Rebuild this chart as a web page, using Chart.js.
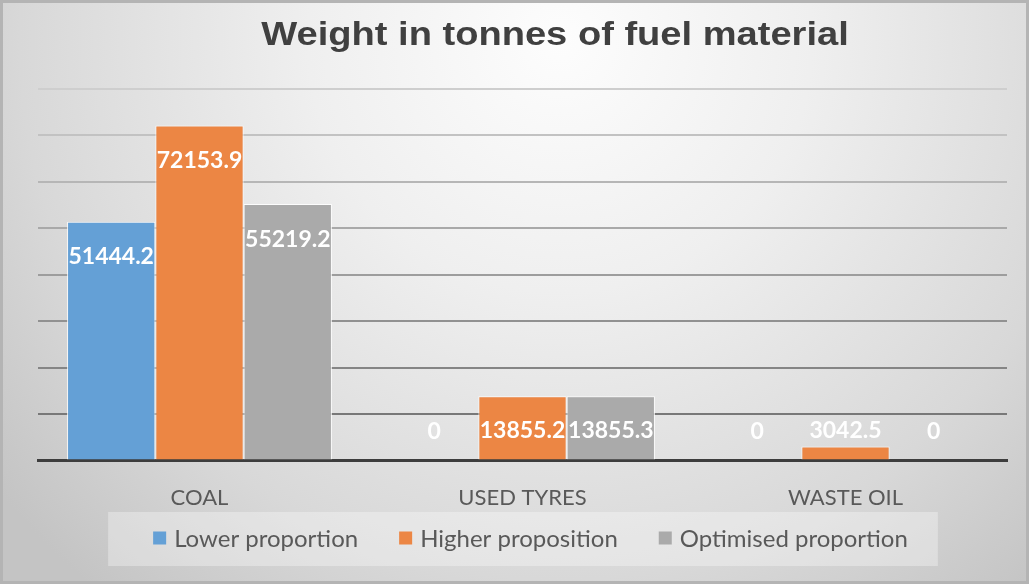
<!DOCTYPE html>
<html>
<head>
<meta charset="utf-8">
<title>Weight in tonnes of fuel material</title>
<script src="https://cdn.jsdelivr.net/npm/chart.js@4.4.1/dist/chart.umd.min.js"></script>
<style>
  html, body { margin: 0; padding: 0; background: #dcdcdc; }
  #wrap { width: 1029px; height: 584px; position: relative; }
  canvas { display: block; }
</style>
</head>
<body>
<div id="wrap"><canvas id="chart" width="1029" height="584"></canvas></div>
<script>
// Fuel categories and tonnage per blend
const categories = ['COAL', 'USED TYRES', 'WASTE OIL'];
const lowerProportion = [51444.2, 0, 0];
const higherProposition = [72153.9, 13855.2, 3042.5];
const optimisedProportion = [55219.2, 13855.3, 0];
const seriesNames = ['Lower proportion', 'Higher proposition', 'Optimised proportion'];
const chartTitle = 'Weight in tonnes of fuel material';

// Value axis range (tick labels are not shown, only gridlines)
const axisMin = 0;
const axisMax = 80000;
const axisStep = 10000;

const COLORS = ['#64a0d6', '#ec8644', '#aaaaaa'];
const LABEL_FONT = 'Lato, "Open Sans", sans-serif';

// Soft radial backdrop with a thin frame
const backdrop = {
  id: 'backdrop',
  beforeDraw(chart) {
    const { ctx, width, height } = chart;
    ctx.save();
    const g = ctx.createRadialGradient(560, 40, 0, 560, 40, 720);
    g.addColorStop(0, '#fdfdfd');
    g.addColorStop(0.35, '#efefef');
    g.addColorStop(0.75, '#d8d8d8');
    g.addColorStop(1, '#c4c4c4');
    ctx.fillStyle = g;
    ctx.fillRect(0, 0, width, height);
    ctx.strokeStyle = '#b4b4b4';
    ctx.lineWidth = 3;
    ctx.strokeRect(1.5, 1.5, width - 3, height - 3);
    ctx.restore();
  }
};

// Heading, drawn slightly widened
const heading = {
  id: 'heading',
  afterDraw(chart) {
    const { ctx } = chart;
    ctx.save();
    ctx.font = 'bold 34px "Liberation Sans", Arial, sans-serif';
    ctx.fillStyle = '#404040';
    ctx.textAlign = 'center';
    ctx.textBaseline = 'alphabetic';
    ctx.translate(555, 45);
    ctx.scale(1.12, 1);
    ctx.fillText(chartTitle, 0, 0);
    ctx.restore();
  }
};

// Legend row on a lighter panel below the category labels
const legendRow = {
  id: 'legendRow',
  beforeDatasetsDraw(chart) {
    const { ctx, chartArea } = chart;
    const box = 13, gap = 8, spacing = 41, cy = 538;
    ctx.save();
    ctx.font = '24px ' + LABEL_FONT;
    const widths = chart.data.datasets.map(ds => box + gap + ctx.measureText(ds.label).width);
    const total = widths.reduce((a, b) => a + b, 0) + spacing * (widths.length - 1);
    let x = (chartArea.left + chartArea.right) / 2 - total / 2 + 8;
    const start = x;
    ctx.fillStyle = 'rgba(255,255,255,0.32)';
    ctx.fillRect(start - 45, cy - 26, total + 45 + 30, 54);
    ctx.textAlign = 'left';
    ctx.textBaseline = 'middle';
    chart.data.datasets.forEach((ds, i) => {
      ctx.fillStyle = ds.backgroundColor;
      ctx.fillRect(x, cy - box / 2, box, box);
      ctx.fillStyle = '#595959';
      ctx.fillText(ds.label, x + box + gap, cy + 1);
      x += widths[i] + spacing;
    });
    ctx.restore();
  }
};

// White value labels placed just inside the top of each bar
const valueLabels = {
  id: 'valueLabels',
  afterDatasetsDraw(chart) {
    const { ctx } = chart;
    ctx.save();
    ctx.font = 'bold 23px ' + LABEL_FONT;
    ctx.fillStyle = '#ffffff';
    ctx.textAlign = 'center';
    ctx.textBaseline = 'middle';
    chart.data.datasets.forEach((ds, di) => {
      const meta = chart.getDatasetMeta(di);
      meta.data.forEach((bar, i) => {
        const v = ds.data[i];
        const y = Math.min(bar.y + 35, bar.base - 29);
        ctx.fillText(String(v), bar.x, y);
      });
    });
    ctx.restore();
  }
};

function gridShade(ctx) {
  const t = (ctx.tick.value - axisMin) / (axisMax - axisMin);
  const c = Math.round(108 + (206 - 108) * t);
  return 'rgb(' + c + ',' + c + ',' + c + ')';
}

function build() {
  const seriesValues = [lowerProportion, higherProposition, optimisedProportion];
  new Chart(document.getElementById('chart'), {
    type: 'bar',
    data: {
      labels: categories,
      datasets: seriesValues.map((vals, i) => ({
        label: seriesNames[i],
        data: vals,
        backgroundColor: COLORS[i],
        borderColor: 'rgba(255,255,255,0.85)',
        borderWidth: 1,
        categoryPercentage: 0.82,
        barPercentage: 1.0
      }))
    },
    options: {
      responsive: false,
      devicePixelRatio: 1,
      animation: false,
      layout: { padding: { left: 38, right: 22, top: 89, bottom: 49 } },
      plugins: {
        title: { display: false },
        legend: { display: false },
        tooltip: { enabled: false }
      },
      scales: {
        x: {
          grid: { display: false, drawTicks: false },
          border: { display: true, color: '#3d3d3d', width: 3 },
          ticks: {
            color: '#595959',
            font: { family: LABEL_FONT, size: 22 },
            padding: 24
          }
        },
        y: {
          min: axisMin,
          max: axisMax,
          ticks: { stepSize: axisStep, display: false },
          grid: { color: gridShade, lineWidth: 2, drawTicks: false },
          border: { display: false }
        }
      }
    },
    plugins: [backdrop, legendRow, valueLabels, heading]
  });
}

const fontLoads = [
  'bold 23px Lato', '24px Lato', '22px Lato', 'bold 34px "Liberation Sans"'
].map(f => document.fonts.load(f).catch(() => null));
Promise.all(fontLoads).then(build, build);
</script>
</body>
</html>
